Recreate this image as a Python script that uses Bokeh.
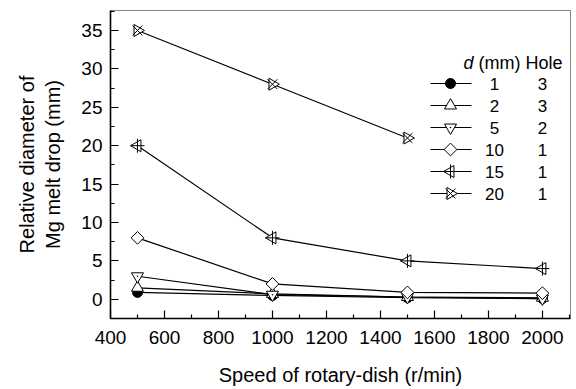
import math
from bokeh.plotting import figure
from bokeh.models import Range1d, Label, FixedTicker, ColumnDataSource
from bokeh.embed import file_html
from bokeh.resources import INLINE

# ---- data ----
speed = [500, 1000, 1500, 2000]
d1 = [0.9, 0.5, 0.2, 0.1]
d2 = [1.5, 0.7, 0.3, 0.2]
d5 = [3.0, 0.6, 0.3, 0.1]
d10 = [8.0, 2.0, 0.9, 0.8]
d15 = [20.0, 8.0, 5.0, 4.0]
speed20 = [500, 1000, 1500]
d20 = [35.0, 28.0, 21.0]

d_labels = ["1", "2", "5", "10", "15", "20"]
hole_labels = ["3", "3", "2", "1", "1", "1"]
x_ticks = [400, 600, 800, 1000, 1200, 1400, 1600, 1800, 2000]
x_minor = [500, 700, 900, 1100, 1300, 1500, 1700, 1900, 2100]
y_ticks = [0, 5, 10, 15, 20, 25, 30, 35]
y_minor = [-2.5, 2.5, 7.5, 12.5, 17.5, 22.5, 27.5, 32.5, 37.5]

FONT = "Liberation Sans"

# ---- layout ----
W, H = 576, 389
BL, BR, BT, BB = 110, 6, 10, 71
X0, X1 = 400, 2104
Y0, Y1 = -2.5, 37.6
FW, FH = W - BL - BR, H - BT - BB

p = figure(width=W, height=H, output_backend="svg", toolbar_location=None,
           x_range=Range1d(X0, X1), y_range=Range1d(Y0, Y1),
           min_border_left=BL, min_border_right=BR, min_border_top=BT, min_border_bottom=BB)
p.background_fill_color = "white"
p.border_fill_color = "white"
p.outline_line_color = "#888888"
p.outline_line_width = 1
p.xgrid.visible = False
p.ygrid.visible = False

for ax in (p.xaxis[0], p.yaxis[0]):
    ax.axis_line_color = "black"
    ax.axis_line_width = 1.6
    ax.major_tick_in = 8
    ax.major_tick_out = 0
    ax.minor_tick_in = 4
    ax.minor_tick_out = 0
    ax.major_tick_line_color = "black"
    ax.minor_tick_line_color = "black"
    ax.major_tick_line_width = 1.2
    ax.minor_tick_line_width = 1.2
    ax.major_label_text_font = FONT
    ax.major_label_text_font_size = "19px"
    ax.major_label_text_color = "black"
    ax.axis_label_text_font = FONT
    ax.axis_label_text_font_size = "20px"
    ax.axis_label_text_font_style = "normal"
    ax.axis_label_text_color = "black"

p.xaxis.ticker = FixedTicker(ticks=x_ticks, minor_ticks=x_minor)
p.yaxis.ticker = FixedTicker(ticks=y_ticks, minor_ticks=y_minor)
p.xaxis.major_label_standoff = 12
p.yaxis.major_label_standoff = 8
p.xaxis.axis_label = "Speed of rotary-dish (r/min)"
p.yaxis.axis_label = "Relative diameter of\nMg melt drop (mm)"
p.xaxis.axis_label_standoff = 17
p.yaxis.axis_label_standoff = 14

LW = 1.2

# marker styles per series: list of (marker, size, angle, filled)
styles = [
    [("circle", 10, 0.0, True)],
    [("triangle", 12, 0.0, False)],
    [("inverted_triangle", 12, 0.0, False), ("dot", 6, 0.0, True)],
    [("square", 9, math.pi / 4, False)],
    [("triangle", 12, math.pi / 2, False), ("cross", 14, 0.0, False)],
    [("triangle", 12, -math.pi / 2, False), ("x", 14, 0.0, False)],
]
series = [(speed, d1), (speed, d2), (speed, d5), (speed, d10), (speed, d15), (speed20, d20)]


def draw_markers(xs, ys, style):
    for marker, size, ang, filled in style:
        p.scatter(xs, ys, marker=marker, size=size, angle=ang,
                  fill_color="black" if filled else "white", line_color="black", line_width=1)


for (xs, ys), st in zip(series, styles):
    p.line(xs, ys, line_color="black", line_width=LW)
    draw_markers(xs, ys, st)

# ---- legend (drawn by hand so that rotated symbols are kept) ----
def dx(px):  # page x pixel -> data x
    return X0 + (px - BL) / FW * (X1 - X0)


def dy(py):  # page y pixel -> data y
    return Y0 + (BT + FH - py) / FH * (Y1 - Y0)


LEG_LINE0, LEG_LINE1, LEG_SYM = 430, 471, 450
ROW0, ROW_STEP = 83, 22
for i, st in enumerate(styles):
    ry = ROW0 + ROW_STEP * i
    p.segment(x0=[dx(LEG_LINE0)], y0=[dy(ry)], x1=[dx(LEG_LINE1)], y1=[dy(ry)],
              line_color="black", line_width=LW)
    draw_markers([dx(LEG_SYM)], [dy(ry)], st)
    p.add_layout(Label(x=494 - BL, y=BT + FH - ry, x_units="screen", y_units="screen",
                       text=d_labels[i], text_font=FONT, text_font_size="17px",
                       text_color="black", text_baseline="middle", text_align="center"))
    p.add_layout(Label(x=542 - BL, y=BT + FH - ry, x_units="screen", y_units="screen",
                       text=hole_labels[i], text_font=FONT, text_font_size="17px",
                       text_color="black", text_baseline="middle", text_align="center"))

HEAD_Y = 62
p.add_layout(Label(x=463 - BL, y=BT + FH - HEAD_Y, x_units="screen", y_units="screen", text="d",
                   text_font=FONT, text_font_size="18px", text_font_style="italic",
                   text_color="black", text_baseline="middle", text_align="left"))
p.add_layout(Label(x=562 - BL, y=BT + FH - HEAD_Y, x_units="screen", y_units="screen",
                   text="(mm) Hole", text_font=FONT, text_font_size="18px", text_color="black",
                   text_baseline="middle", text_align="right"))

open("out.html", "w").write(file_html(p, INLINE))
